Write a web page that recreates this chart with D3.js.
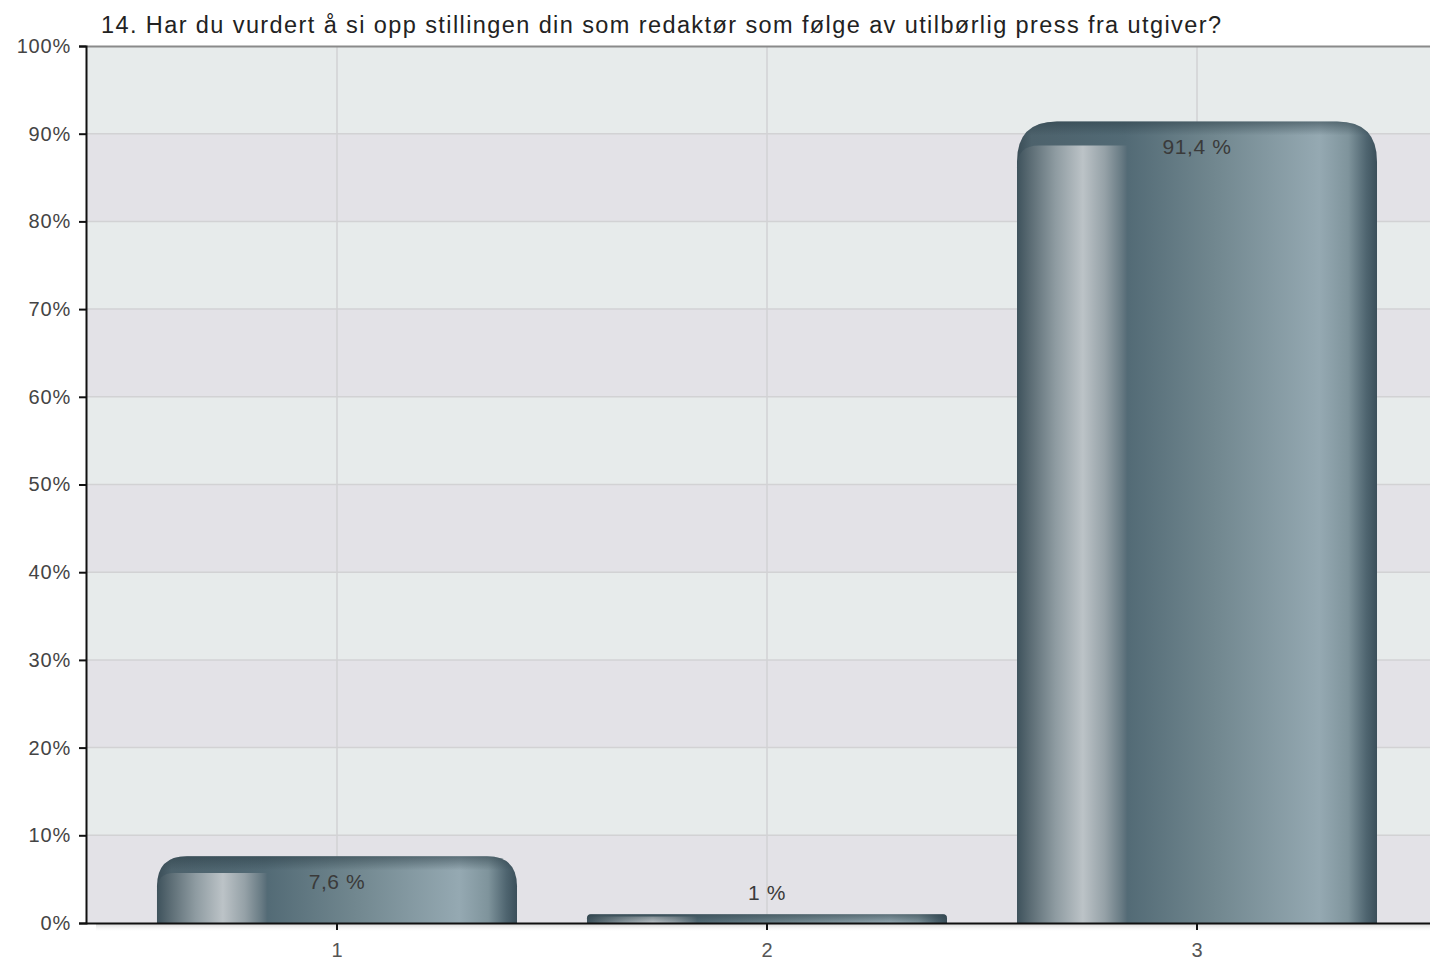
<!DOCTYPE html>
<html><head><meta charset="utf-8">
<script src="https://cdn.jsdelivr.net/npm/d3@7"></script>
<style>
html,body{margin:0;padding:0;background:#fff;}
svg{display:block;font-family:"Liberation Sans",Arial,Helvetica,sans-serif;}
</style></head>
<body><svg id="c" width="1430" height="962"></svg>
<script>
const title = "14. Har du vurdert å si opp stillingen din som redaktør som følge av utilbørlig press fra utgiver?";
const categories = ["1", "2", "3"];
const values = [7.6, 1, 91.4];
const valueLabels = ["7,6 %", "1 %", "91,4 %"];
const yTicks = [0, 10, 20, 30, 40, 50, 60, 70, 80, 90, 100];

const svg = d3.select("#c");
const L = 86, R = 1448, T = 46, B = 923;
const y = d3.scaleLinear().domain([0, 100]).range([B, T]);
const x = d3.scaleBand().domain(categories).range([L, R]).paddingInner(0).paddingOuter(0.0837);
const barW = x.bandwidth() * 360 / 430;

const defs = svg.append("defs");
const gMain = defs.append("linearGradient").attr("id", "gMain").attr("x1", 0).attr("x2", 1).attr("y1", 0).attr("y2", 0);
[[0, "#3a4d57"], [0.04, "#4d626c"], [0.3, "#526a75"], [0.55, "#71878f"], [0.84, "#95a9b2"], [0.92, "#7f949c"], [0.97, "#4f6570"], [1, "#3b4f5a"]]
  .forEach(s => gMain.append("stop").attr("offset", s[0]).attr("stop-color", s[1]));
const gLeft = defs.append("linearGradient").attr("id", "gLeft").attr("x1", 0).attr("x2", 1).attr("y1", 0).attr("y2", 0);
[[0, "#3e525c"], [0.12, "#5b6c74"], [0.35, "#8e9ba1"], [0.6, "#bcc3c7"], [0.8, "#95a1a7"], [0.95, "#687b84"], [1, "#566c77"]]
  .forEach(s => gLeft.append("stop").attr("offset", s[0]).attr("stop-color", s[1]));

// background bands
const bandData = d3.range(10);
svg.append("g").selectAll("rect").data(bandData).join("rect")
  .attr("x", L).attr("width", 1430 - L)
  .attr("y", d => y(d * 10 + 10)).attr("height", d => y(d * 10) - y(d * 10 + 10))
  .attr("fill", d => d % 2 === 0 ? "#e3e2e7" : "#e7ebeb");

// gridlines
svg.append("g").selectAll("line").data(yTicks.slice(1, -1)).join("line")
  .attr("x1", L).attr("x2", 1430).attr("y1", d => y(d)).attr("y2", d => y(d))
  .attr("stroke", "#d2d2d4").attr("stroke-width", 1.5);
svg.append("g").selectAll("line").data(categories).join("line")
  .attr("x1", d => x(d) + x.bandwidth() / 2).attr("x2", d => x(d) + x.bandwidth() / 2)
  .attr("y1", T).attr("y2", B).attr("stroke", "#d2d2d4").attr("stroke-width", 1.5);

// top border
svg.append("line").attr("x1", L).attr("x2", 1430).attr("y1", T + 0.5).attr("y2", T + 0.5)
  .attr("stroke", "#8a8a8a").attr("stroke-width", 2);

// bars
function topRounded(x0, y0, w, h, r) {
  return `M${x0},${y0 + h} L${x0},${y0 + r} Q${x0},${y0} ${x0 + r},${y0} L${x0 + w - r},${y0} Q${x0 + w},${y0} ${x0 + w},${y0 + r} L${x0 + w},${y0 + h} Z`;
}
function leftRounded(x0, y0, w, h, r) {
  return `M${x0},${y0 + h} L${x0},${y0 + r} Q${x0},${y0} ${x0 + r},${y0} L${x0 + w},${y0} L${x0 + w},${y0 + h} Z`;
}
const bars = svg.append("g").selectAll("g").data(categories.map((c, i) => ({c, v: values[i], lab: valueLabels[i], i}))).join("g");
bars.each(function(d) {
  const g = d3.select(this);
  const cx = x(d.c) + x.bandwidth() / 2;
  const x0 = cx - barW / 2;
  const y0 = y(d.v);
  const h = B - y0;
  const r = Math.min(40, h * 0.45);
  g.append("path").attr("d", topRounded(x0, y0, barW, h, r)).attr("fill", "url(#gMain)");
  const off = Math.min(24, h * 0.25);
  const lw = barW * 0.305;
  const lr = Math.min(22, (h - off) * 0.35);
  g.append("path").attr("d", leftRounded(x0, y0 + off, lw, h - off, lr)).attr("fill", "url(#gLeft)");
  // top shading
  const gid = "gTop" + d.i;
  const gt = defs.append("linearGradient").attr("id", gid).attr("x1", 0).attr("x2", 0).attr("y1", 0).attr("y2", 1);
  const f = Math.min(1, 14 / h);
  gt.append("stop").attr("offset", 0).attr("stop-color", "#2c3f48").attr("stop-opacity", 0.55);
  gt.append("stop").attr("offset", f).attr("stop-color", "#2c3f48").attr("stop-opacity", 0);
  g.append("path").attr("d", topRounded(x0, y0, barW, h, r)).attr("fill", `url(#${gid})`);
});

// value labels
bars.append("text")
  .attr("x", d => x(d.c) + x.bandwidth() / 2)
  .attr("y", d => (B - y(d.v) > 40) ? y(d.v) + 33 : y(d.v) - 14)
  .attr("text-anchor", "middle").attr("font-size", 21).attr("letter-spacing", 0.6).attr("fill", "#3a3a3a")
  .text(d => d.lab);

// axes
const yAxis = svg.append("g").attr("transform", `translate(${L},0)`)
  .call(d3.axisLeft(y).tickValues(yTicks).tickFormat(d => d + "%").tickSize(7).tickPadding(8));
yAxis.select(".domain").attr("stroke", "#111").attr("stroke-width", 2);
yAxis.selectAll(".tick line").attr("stroke", "#111").attr("stroke-width", 2);
yAxis.selectAll(".tick text").attr("font-size", 20).attr("letter-spacing", 0.8).attr("fill", "#444").attr("font-family", "Liberation Sans, Arial, sans-serif");

const xAxis = svg.append("g").attr("transform", `translate(0,${B})`)
  .call(d3.axisBottom(x).tickSize(7).tickSizeOuter(0).tickPadding(13));
xAxis.select(".domain").attr("stroke", "#111").attr("stroke-width", 2).attr("d", `M${L},0.5H1430`);
xAxis.selectAll(".tick line").attr("stroke", "#111").attr("stroke-width", 2);
xAxis.selectAll(".tick text").attr("font-size", 20).attr("fill", "#555").attr("font-family", "Liberation Sans, Arial, sans-serif");

// faint shadow under x-axis
const gSh = defs.append("linearGradient").attr("id", "gSh").attr("x1", 0).attr("x2", 0).attr("y1", 0).attr("y2", 1);
gSh.append("stop").attr("offset", 0).attr("stop-color", "#d8d8d8");
gSh.append("stop").attr("offset", 1).attr("stop-color", "#ffffff").attr("stop-opacity", 0);
svg.insert("rect", ":first-child").attr("x", L + 10).attr("y", B + 1).attr("width", 1430 - L - 10).attr("height", 8).attr("fill", "url(#gSh)");

// title
svg.append("text").attr("x", 101).attr("y", 33).attr("font-size", 23.5).attr("fill", "#222")
  .attr("textLength", 1120).attr("lengthAdjust", "spacing")
  .text(title);
</script></body></html>
